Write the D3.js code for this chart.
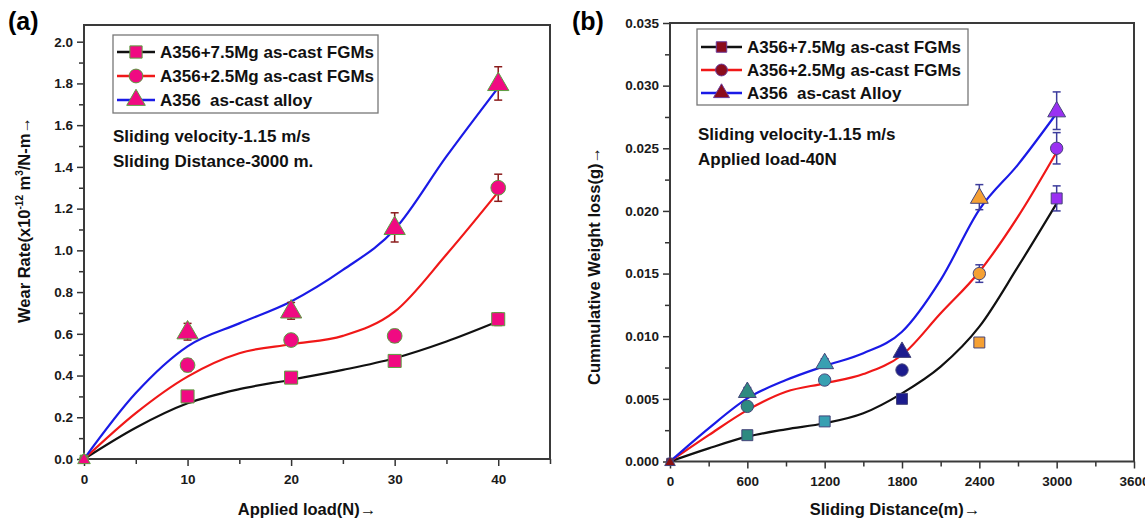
<!DOCTYPE html>
<html>
<head>
<meta charset="utf-8">
<script src="https://cdn.jsdelivr.net/npm/d3@7"></script>
<style>
  html, body { margin: 0; padding: 0; background: #fff; }
  svg { display: block; font-family: "Liberation Sans", Arial, sans-serif; font-weight: bold; }
  .keep-space { white-space: pre; }
</style>
</head>
<body>
<svg id="chart" width="1145" height="524"></svg>
<script>
// ---- Panel (a): wear rate vs applied load ----
const loadsA = [0, 10, 20, 30, 40];
const wearMg75 = [0, 0.30, 0.39, 0.47, 0.67];
const wearMg25 = [0, 0.45, 0.57, 0.59, 1.30];
const wearBase = [0, 0.61, 0.71, 1.11, 1.80];
const errMg75A = [0, 0.02, 0.02, 0.02, 0.03];
const errMg25A = [0, 0.03, 0.025, 0.03, 0.065];
const errBaseA = [0, 0.04, 0.04, 0.07, 0.08];
// fitted trend curves
const fitLoadsA = [0, 5, 10, 15, 20, 25, 30, 35, 40];
const fitMg75A = [0, 0.15, 0.267, 0.335, 0.38, 0.427, 0.483, 0.563, 0.66];
const fitMg25A = [0, 0.22, 0.395, 0.507, 0.55, 0.59, 0.706, 0.98, 1.28];
const fitBaseA = [0, 0.316, 0.54, 0.65, 0.755, 0.906, 1.10, 1.45, 1.78];
const xTicksA = [0, 10, 20, 30, 40];
const yTicksA = [0.0, 0.2, 0.4, 0.6, 0.8, 1.0, 1.2, 1.4, 1.6, 1.8, 2.0];

// ---- Panel (b): cumulative weight loss vs sliding distance ----
const distB = [0, 600, 1200, 1800, 2400, 3000];
const lossMg75 = [0, 0.0021, 0.0032, 0.0050, 0.0095, 0.0210];
const lossMg25 = [0, 0.0044, 0.0065, 0.0073, 0.0150, 0.0250];
const lossBase = [0, 0.0056, 0.0079, 0.0088, 0.0211, 0.0280];
const errMg75B = [0, 0, 0, 0, 0.0003, 0.001];
const errMg25B = [0, 0.0002, 0.0002, 0, 0.0007, 0.00125];
const errBaseB = [0, 0.0003, 0.0003, 0.0002, 0.001, 0.0015];
const fitDistB = [0, 300, 600, 900, 1200, 1500, 1800, 2100, 2400, 2700, 3000];
const fitMg75B = [0, 0.00105, 0.00198, 0.00257, 0.00305, 0.00385, 0.00544, 0.00757, 0.01076, 0.01555, 0.0206];
const fitMg25B = [0, 0.0021, 0.0041, 0.00557, 0.00624, 0.00698, 0.0085, 0.01183, 0.01515, 0.01954, 0.0247];
const fitBaseB = [0, 0.00265, 0.00504, 0.0065, 0.00762, 0.00864, 0.01036, 0.0145, 0.0201, 0.0237, 0.0278];
const xTicksB = [0, 600, 1200, 1800, 2400, 3000, 3600];
const yTicksB = [0, 0.005, 0.010, 0.015, 0.020, 0.025, 0.030, 0.035];
const pointColorsB = ["#8b1010", "#2e8a80", "#38a0b2", "#1c1c8e", "#f5a033", "#9a30f2"];

const seriesNamesA = ["A356+7.5Mg as-cast FGMs", "A356+2.5Mg as-cast FGMs", "A356  as-cast alloy"];
const seriesNamesB = ["A356+7.5Mg as-cast FGMs", "A356+2.5Mg as-cast FGMs", "A356  as-cast Alloy"];
const lineColors = ["#111111", "#f01818", "#1a1ae6"];
const shapes = [d3.symbolSquare, d3.symbolCircle, d3.symbolTriangle];

const svg = d3.select("#chart");

function drawPanel(p) {
  const g = svg.append("g");
  const x = d3.scaleLinear().domain(p.xDomain).range([p.left, p.right]);
  const y = d3.scaleLinear().domain(p.yDomain).range([p.bottom, p.top]);

  // minor ticks
  g.append("g").attr("transform", `translate(0,${p.bottom})`)
    .call(d3.axisBottom(x).tickValues(p.xMinor).tickSize(5).tickFormat(""))
    .call(s => s.select(".domain").remove());
  g.append("g").attr("transform", `translate(${p.left},0)`)
    .call(d3.axisLeft(y).tickValues(p.yMinor).tickSize(5).tickFormat(""))
    .call(s => s.select(".domain").remove());
  // major ticks
  const ax = g.append("g").attr("transform", `translate(0,${p.bottom})`)
    .call(d3.axisBottom(x).tickValues(p.xTicks).tickSize(7).tickPadding(8).tickFormat(d3.format("d")));
  ax.select(".domain").remove();
  const ay = g.append("g").attr("transform", `translate(${p.left},0)`)
    .call(d3.axisLeft(y).tickValues(p.yTicks).tickSize(7).tickPadding(4).tickFormat(p.yFormat));
  ay.select(".domain").remove();
  g.selectAll(".tick line").attr("stroke", "#333").attr("stroke-width", 1.5);
  g.selectAll(".tick text").attr("font-size", 13.5).attr("font-weight", "bold")
    .attr("font-family", "Liberation Sans, Arial, sans-serif").attr("fill", "#1a1a1a");

  // frame
  g.append("rect").attr("x", p.left).attr("y", p.top)
    .attr("width", p.right - p.left).attr("height", p.bottom - p.top)
    .attr("fill", "none").attr("stroke", "#3a3a3a").attr("stroke-width", 2);

  const clipId = "clip" + p.id;
  svg.append("clipPath").attr("id", clipId).append("rect")
    .attr("x", p.left).attr("y", p.top).attr("width", p.right - p.left).attr("height", p.bottom - p.top);

  // fitted curves
  const line = d3.line().x(d => x(d[0])).y(d => y(d[1])).curve(d3.curveMonotoneX);
  p.fits.forEach((f, i) => {
    g.append("path").datum(p.fitX.map((v, k) => [v, f[k]]))
      .attr("d", line).attr("fill", "none")
      .attr("stroke", lineColors[i]).attr("stroke-width", 2.2)
      .attr("clip-path", `url(#${clipId})`);
  });

  // error bars and markers
  p.values.forEach((vals, i) => {
    vals.forEach((v, k) => {
      const e = p.errs[i][k];
      if (e > 0) {
        const cx = x(p.xData[k]);
        const eg = g.append("g").attr("stroke", p.errColor).attr("stroke-width", 1.5);
        eg.append("line").attr("x1", cx).attr("x2", cx).attr("y1", y(v - e)).attr("y2", y(v + e));
        [v - e, v + e].forEach(t => eg.append("line")
          .attr("x1", cx - 4).attr("x2", cx + 4).attr("y1", y(t)).attr("y2", y(t)));
      }
    });
    vals.forEach((v, k) => {
      const size = k === 0 ? p.markerSize * 0.35 : p.markerSize;
      g.append("path")
        .attr("d", d3.symbol().type(shapes[i]).size(i === 2 ? size * 1.15 : size)())
        .attr("transform", `translate(${x(p.xData[k])},${y(v) + (i === 2 ? 1 : 0)})`)
        .attr("fill", p.fill(k, i)).attr("stroke", p.markerStroke).attr("stroke-width", 1);
    });
  });

  // legend
  const L = p.legend;
  g.append("rect").attr("x", L.x).attr("y", L.y).attr("width", L.w).attr("height", L.h)
    .attr("fill", "#fff").attr("stroke", "#777").attr("stroke-width", 1.3);
  p.names.forEach((n, i) => {
    const ly = L.y + L.first + i * L.step;
    g.append("line").attr("x1", L.x + 4).attr("x2", L.x + 4 + L.lineLen)
      .attr("y1", ly).attr("y2", ly).attr("stroke", lineColors[i]).attr("stroke-width", 2.5);
    g.append("path").attr("d", d3.symbol().type(shapes[i]).size(p.legendMarker)())
      .attr("transform", `translate(${L.x + 4 + L.lineLen / 2},${ly})`)
      .attr("fill", p.legendFill).attr("stroke", p.legendStroke).attr("stroke-width", 1);
    g.append("text").attr("class", "keep-space").attr("x", L.x + L.lineLen + 9).attr("y", ly + 6)
      .attr("font-size", 17).attr("fill", "#111").text(n);
  });

  // annotations
  p.notes.forEach((t, i) => {
    g.append("text").attr("x", p.noteX).attr("y", p.noteY + i * 25)
      .attr("font-size", 17).attr("fill", "#111").text(t);
  });

  // axis titles
  g.append("text").attr("x", (p.left + p.right) / 2 + p.xTitleDx).attr("y", 515)
    .attr("text-anchor", "middle").attr("font-size", 16.5).attr("fill", "#111").text(p.xTitle);
  const yt = g.append("text")
    .attr("transform", `translate(${p.yTitleX},${p.yTitleY}) rotate(-90)`)
    .attr("text-anchor", "middle").attr("font-size", 16.5).attr("fill", "#111");
  p.yTitle(yt);

  // panel tag
  g.append("text").attr("x", p.tagX).attr("y", 30).attr("font-size", 25).attr("fill", "#000").text(p.tag);
}

drawPanel({
  id: "a", tag: "(a)", tagX: 8,
  left: 84, right: 550, top: 25, bottom: 459,
  xDomain: [0, 45], yDomain: [0, 2.08],
  xTicks: xTicksA, yTicks: yTicksA,
  xMinor: [5, 15, 25, 35, 45], yMinor: d3.range(0.1, 2.05, 0.2),
  yFormat: d3.format(".1f"),
  xData: loadsA, values: [wearMg75, wearMg25, wearBase], errs: [errMg75A, errMg25A, errBaseA],
  fitX: fitLoadsA, fits: [fitMg75A, fitMg25A, fitBaseA],
  markerSize: 170, fill: () => "#f00a82", markerStroke: "#5aa040", errColor: "#8b1c1c",
  legend: { x: 113, y: 35, w: 265, h: 78, first: 17, step: 24, lineLen: 38 },
  legendMarker: 150, legendFill: "#f00a82", legendStroke: "#5aa040",
  names: seriesNamesA,
  notes: ["Sliding velocity-1.15 m/s", "Sliding Distance-3000 m."], noteX: 113, noteY: 142,
  xTitle: "Applied load(N)\u2192", xTitleDx: -10,
  yTitleX: 30, yTitleY: 220,
  yTitle: t => {
    t.append("tspan").text("Wear Rate(x10");
    t.append("tspan").attr("font-size", 10).attr("dy", -7).text("-12");
    t.append("tspan").attr("dy", 7).text(" m");
    t.append("tspan").attr("font-size", 10).attr("dy", -7).text("3");
    t.append("tspan").attr("dy", 7).text("/N-m\u2192");
  }
});

drawPanel({
  id: "b", tag: "(b)", tagX: 572,
  left: 670, right: 1134, top: 23, bottom: 461.5,
  xDomain: [0, 3600], yDomain: [0, 0.035],
  xTicks: xTicksB, yTicks: yTicksB,
  xMinor: d3.range(300, 3600, 600), yMinor: d3.range(0.0025, 0.035, 0.005),
  yFormat: d3.format(".3f"),
  xData: distB, values: [lossMg75, lossMg25, lossBase], errs: [errMg75B, errMg25B, errBaseB],
  fitX: fitDistB, fits: [fitMg75B, fitMg25B, fitBaseB],
  markerSize: 120, fill: (k) => pointColorsB[k], markerStroke: "#44447a", errColor: "#3c3c9c",
  legend: { x: 697, y: 29, w: 271, h: 76, first: 18, step: 23, lineLen: 41 },
  legendMarker: 110, legendFill: "#8b0c1c", legendStroke: "#6a3a9a",
  names: seriesNamesB,
  notes: ["Sliding velocity-1.15 m/s", "Applied load-40N"], noteX: 698, noteY: 140,
  xTitle: "Sliding Distance(m)\u2192", xTitleDx: -7,
  yTitleX: 600, yTitleY: 266,
  yTitle: t => t.text("Cummulative Weight loss(g)\u2192")
});
</script>
</body>
</html>
